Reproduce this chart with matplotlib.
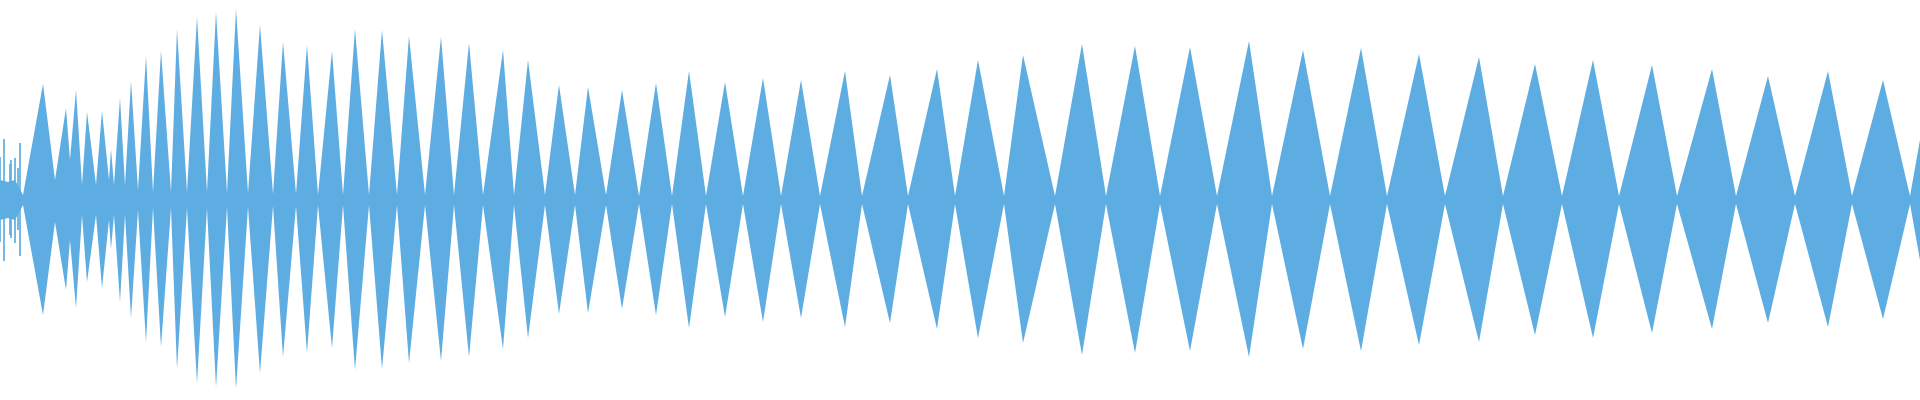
import matplotlib
matplotlib.use("Agg")
import matplotlib.pyplot as plt

# Envelope of the waveform: time (arbitrary units), upper and lower amplitude
env_time = [0, 8, 15, 23, 43, 55, 66, 70, 76, 82, 87, 96, 102, 109, 111, 114, 120, 125, 131, 138,
            146, 153, 161, 171, 177, 187, 197, 207, 216, 227, 236, 248, 260, 273, 283, 296, 307, 318,
            332, 343, 355, 369, 382, 397, 409, 425, 441, 454, 469, 483, 503, 514, 528, 545, 559, 575,
            588, 606, 622, 639, 656, 672, 689, 706, 725, 743, 763, 781, 801, 820, 845, 862, 890, 908,
            937, 955, 978, 1004, 1023, 1055, 1082, 1106, 1135, 1160, 1190, 1217, 1249, 1272, 1303,
            1330, 1361, 1387, 1419, 1445, 1479, 1503, 1535, 1562, 1593, 1619, 1652, 1677, 1712, 1736,
            1768, 1795, 1828, 1852, 1883, 1910, 1920]
env_upper = [20, 18, 20, 5, 116, 20, 92, 40, 110, 15, 88, 15, 89, 20, 51, 15, 102, 15, 119, 10,
             144, 8, 149, 8, 171, 8, 183, 8, 188, 7, 191, 7, 175, 6, 158, 6, 155, 5,
             149, 5, 171, 5, 170, 5, 164, 5, 163, 5, 157, 5, 150, 5, 140, 5, 115, 5,
             113, 5, 110, 4, 117, 4, 129, 4, 118, 4, 122, 4, 120, 4, 129, 4, 125, 4,
             131, 4, 140, 4, 145, 4, 156, 4, 154, 4, 153, 4, 159, 4, 150,
             4, 152, 4, 146, 4, 143, 4, 136, 4, 140, 4, 135, 4, 131, 4,
             124, 4, 129, 4, 120, 4, 60]
env_lower = [-20, -18, -20, -5, -115, -22, -90, -40, -108, -15, -82, -15, -88, -20, -49, -15, -102, -15, -118, -10,
             -142, -8, -147, -8, -169, -8, -183, -8, -187, -7, -189, -7, -173, -6, -157, -6, -153, -5,
             -148, -5, -170, -5, -169, -5, -163, -5, -161, -5, -157, -5, -149, -5, -138, -5, -114, -5,
             -113, -5, -109, -4, -115, -4, -128, -4, -117, -4, -122, -4, -118, -4, -127, -4, -123, -4,
             -129, -4, -138, -4, -143, -4, -155, -4, -153, -4, -151, -4, -157, -4, -149,
             -4, -151, -4, -145, -4, -142, -4, -135, -4, -138, -4, -133, -4, -129, -4,
             -123, -4, -127, -4, -119, -4, -60]

# Isolated spikes in the noisy onset
spike_time = [0, 4, 10, 11, 15, 18, 20]
spike_upper = [43, 61, 36, 40, 42, 32, 57]
spike_lower = [-42, -61, -35, -38, -43, -30, -56]

COLOR = "#5DADE2"

fig = plt.figure(figsize=(19.2, 4.0), dpi=100)
ax = fig.add_axes([0, 0, 1, 1])
ax.fill_between(env_time, env_lower, env_upper, color=COLOR, linewidth=0)
ax.vlines(spike_time, spike_lower, spike_upper, color=COLOR, linewidth=1.2)
ax.set_xlim(0, 1920)
ax.set_ylim(-200, 200)
ax.axis("off")
fig.savefig("out.png", dpi=100, facecolor="white")
